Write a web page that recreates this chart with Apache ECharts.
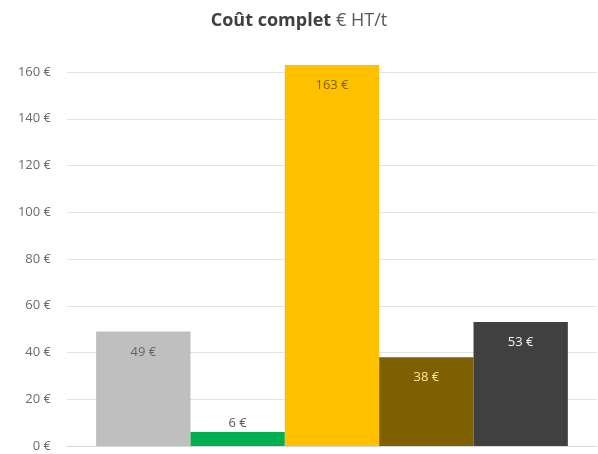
<!DOCTYPE html>
<html>
<head>
<meta charset="utf-8">
<script src="https://cdn.jsdelivr.net/npm/echarts@6/dist/echarts.min.js"></script>
<style>
  html, body { margin: 0; padding: 0; background: #fff; }
  #chart { width: 598px; height: 454px; }
</style>
</head>
<body>
<div id="chart"></div>
<script>
// one category, five adjacent bars
var categories = ['Coût complet']
var seriesNames = ['A', 'B', 'C', 'D', 'E']
var values = [49, 6, 163, 38, 53]
var colors = ['#bfbfbf', '#00b050', '#ffc000', '#7f6000', '#404040']
var labelColors = ['#666666', '#595959', '#7f6000', '#ffe699', '#f2f2f2']
var labelPos = ['insideTop', 'top', 'insideTop', 'insideTop', 'insideTop']
var yTicks = [0, 20, 40, 60, 80, 100, 120, 140, 160]

var chart = echarts.init(document.getElementById('chart'))

var series = values.map(function (v, i) {
  return {
    name: seriesNames[i],
    type: 'bar',
    clip: false,
    barGap: '0%',
    barCategoryGap: '11%',
    data: [v],
    itemStyle: { color: colors[i] },
    label: {
      show: true,
      position: labelPos[i],
      distance: labelPos[i] === 'top' ? 2 : 14,
      formatter: '{c} €',
      color: labelColors[i],
      fontFamily: 'Open Sans',
      fontSize: 13
    }
  }
})

chart.setOption({
  animation: false,
  title: {
    text: '{b|Coût complet} {n|€ HT/t}',
    left: 'center',
    top: 7,
    textStyle: {
      rich: {
        b: { fontFamily: 'Open Sans', fontWeight: 'bold', fontSize: 18, color: '#404040' },
        n: { fontFamily: 'Open Sans', fontWeight: 'normal', fontSize: 18, color: '#595959' }
      }
    }
  },
  grid: { left: 67, right: 1, top: 72, bottom: 8 },
  xAxis: {
    type: 'category',
    data: categories,
    axisLine: { lineStyle: { color: '#d9d9d9' } },
    axisTick: { show: false },
    axisLabel: { show: false }
  },
  yAxis: {
    type: 'value',
    min: yTicks[0],
    max: yTicks[yTicks.length - 1],
    interval: 20,
    axisLine: { show: false },
    axisTick: { show: false },
    splitLine: { lineStyle: { color: '#e3e3e3' } },
    axisLabel: {
      formatter: '{value} €',
      color: '#6b6b6b',
      fontFamily: 'Open Sans',
      fontSize: 13,
      margin: 16
    }
  },
  series: series
})
</script>
</body>
</html>
